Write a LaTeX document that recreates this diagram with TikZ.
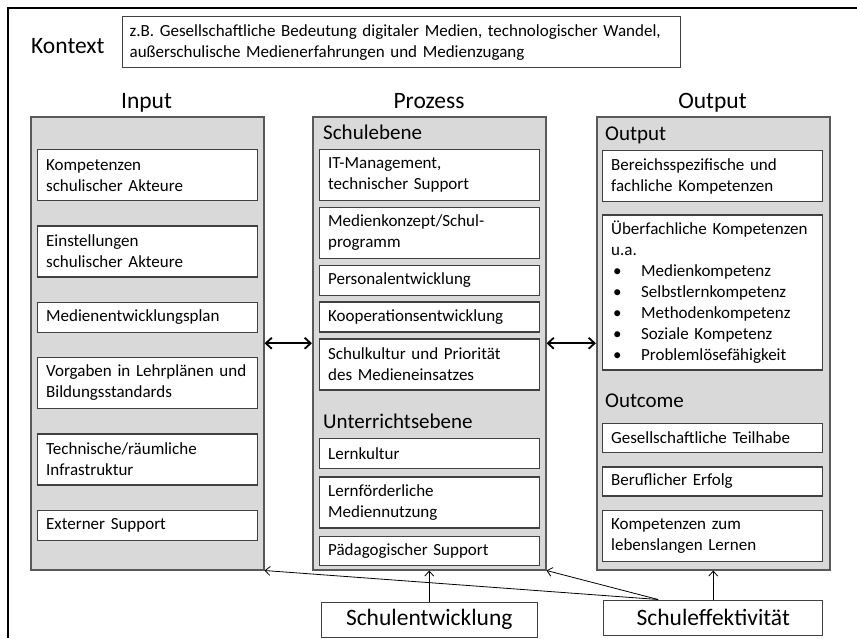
\documentclass[tikz,border=0pt]{standalone}
\usepackage{fontspec}
\setmainfont{Carlito}
\usetikzlibrary{positioning,calc,arrows.meta}
\definecolor{panelgray}{HTML}{D9D9D9}
\definecolor{edgegray}{HTML}{595959}
\definecolor{boxgray}{HTML}{404040}
\newcommand{\listbullet}{\makebox[30pt][l]{\hspace{2pt}•}}

\begin{document}
\begin{tikzpicture}[
    x=1pt, y=-1pt,
    panel/.style={rectangle, draw=edgegray, line width=1.5pt, fill=panelgray, minimum width=233pt, minimum height=453pt, anchor=north west, inner sep=0pt},
    item/.style={rectangle, draw=boxgray, line width=1.3pt, fill=white, text width=203pt, inner xsep=8.5pt, inner ysep=3pt, align=left, font=\fontsize{17}{21}\selectfont},
    tall/.style={item, minimum height=51pt},
    short/.style={item, minimum height=30pt},
    heading/.style={font=\fontsize{23.5}{28}\selectfont, anchor=base, inner sep=0pt},
    subheading/.style={font=\fontsize{21}{25}\selectfont, anchor=base west, inner sep=0pt},
    factor/.style={rectangle, draw=boxgray, line width=1.3pt, fill=white, font=\fontsize{23.5}{28}\selectfont, minimum height=35pt},
    arrow/.style={-{Straight Barb[length=5pt,width=9pt]}, line width=0.8pt},
    dblarrow/.style={{Straight Barb[length=6pt,width=11pt]}-{Straight Barb[length=6pt,width=11pt]}, line width=1.8pt}
]
\useasboundingbox (0,0) rectangle (857,638);

% Frame and context
\draw[line width=1.5pt] (8,638) -- (8,8) -- (857,8);
\node[heading, anchor=base west] (kontext) at (31,53) {Kontext};
\node[item, text width=544pt, inner xsep=7pt, minimum height=51pt, anchor=north west] (ctxbox) at (122,16)
    {z.B. Gesellschaftliche Bedeutung digitaler Medien, technologischer Wandel,\\au{\ss}erschulische Medienerfahrungen und Medienzugang};

% Columns
\node[panel] (input) at (30,116) {};
\node[panel] (prozess) at (312,116) {};
\node[panel] (output) at (596,116) {};
\node[heading] (inputhead) at (146.5,108) {Input};
\node[heading] (prozesshead) at (429,108) {Prozess};
\node[heading] (outputhead) at (712.5,108) {Output};

% Input
\node[tall, anchor=north west] (komp) at (37,149) {Kompetenzen\\schulischer Akteure};
\node[tall, below=24pt of komp] (einst) {Einstellungen\\schulischer Akteure};
\node[short, below=24pt of einst] (mep) {Medienentwicklungsplan};
\node[tall, below=24pt of mep] (vorgaben) {Vorgaben in Lehrpl{\"a}nen und\\Bildungsstandards};
\node[tall, below=24pt of vorgaben] (infra) {Technische/r{\"a}umliche\\Infrastruktur};
\node[short, below=24pt of infra] (extern) {Externer Support};

% Prozess
\node[subheading] (schulebene) at (323,139) {Schulebene};
\node[tall, anchor=north west] (itman) at (319,149) {IT-Management,\\technischer Support};
\node[tall, below=5.5pt of itman] (medkonz) {Medienkonzept/Schul-\\programm};
\node[short, below=5.5pt of medkonz] (personal) {Personalentwicklung};
\node[short, below=5.5pt of personal] (koop) {Kooperationsentwicklung};
\node[tall, below=5.5pt of koop] (kultur) {Schulkultur und Priorit{\"a}t\\des Medieneinsatzes};
\node[subheading] (unterricht) at (323,428) {Unterrichtsebene};
\node[short, anchor=north west] (lernkultur) at (319,438) {Lernkultur};
\node[tall, below=7pt of lernkultur] (nutzung) {Lernf{\"o}rderliche\\Mediennutzung};
\node[short, below=7pt of nutzung, minimum height=29pt] (paedsupp) {P{\"a}dagogischer Support};

% Output
\node[subheading] (outsub) at (605,140) {Output};
\node[tall, anchor=north west] (fachkomp) at (602,150) {Bereichsspezifische und\\fachliche Kompetenzen};
\node[item, below=12pt of fachkomp, minimum height=155pt] (ueberkomp)
    {{\"U}berfachliche Kompetenzen\\u.a.\\\listbullet Medienkompetenz\\\listbullet Selbstlernkompetenz\\\listbullet Methodenkompetenz\\\listbullet Soziale Kompetenz\\\listbullet Probleml{\"o}sef{\"a}higkeit};
\node[subheading] (outcome) at (605,407) {Outcome};
\node[short, anchor=north west, minimum height=29pt] (teilhabe) at (602,423) {Gesellschaftliche Teilhabe};
\node[short, below=13pt of teilhabe, minimum height=29pt] (erfolg) {Beruflicher Erfolg};
\node[tall, below=13pt of erfolg] (lebenslang) {Kompetenzen zum\\lebenslangen Lernen};

% Factors below
\node[factor, minimum width=216pt, below=31pt of prozess] (schulentw) {Schulentwicklung};
\node[factor, minimum width=219pt, below=29pt of output] (schuleff) {Schuleffektivit{\"a}t};
\coordinate (split) at ($(schuleff.north west)!0.25!(schuleff.north east)$);

% Arrows
\draw[dblarrow] (input) -- (prozess);
\draw[dblarrow] (prozess) -- (output);
\draw[arrow] (schulentw.north) -- (schulentw.north |- prozess.south);
\draw[arrow] (schuleff) -- (output);
\draw[arrow] (split) -- (prozess.south east);
\draw[arrow] (split) -- (input.south east);

\end{tikzpicture}
\end{document}
